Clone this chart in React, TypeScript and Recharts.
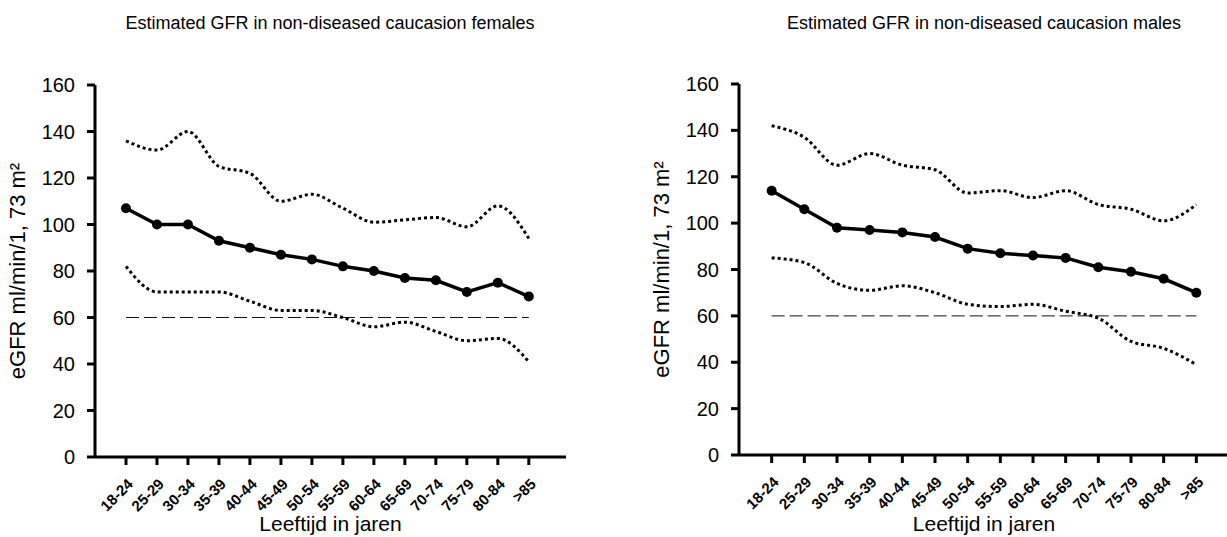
import React from 'react';
import { LineChart, Line, XAxis, YAxis, ReferenceLine } from 'recharts';

const categories = ['18-24', '25-29', '30-34', '35-39', '40-44', '45-49', '50-54', '55-59', '60-64', '65-69', '70-74', '75-79', '80-84', '>85'];

const femaleMean = [107, 100, 100, 93, 90, 87, 85, 82, 80, 77, 76, 71, 75, 69];
const femaleUpper = [136, 132, 140, 125, 122, 110, 113, 107, 101, 102, 103, 99, 108, 94];
const femaleLower = [82, 71, 71, 71, 67, 63, 63, 60, 56, 58, 54, 50, 51, 41];

const maleMean = [114, 106, 98, 97, 96, 94, 89, 87, 86, 85, 81, 79, 76, 70];
const maleUpper = [142, 137, 125, 130, 125, 123, 113, 114, 111, 114, 108, 106, 101, 108];
const maleLower = [85, 83, 74, 71, 73, 70, 65, 64, 65, 62, 59, 49, 46, 39];

const yTicks = [0, 20, 40, 60, 80, 100, 120, 140, 160];
const xTicks = categories.map((_, i) => i);
const threshold = 60;

const titles = ['Estimated GFR in non-diseased caucasion females', 'Estimated GFR in non-diseased caucasion males'];
const xLabel = 'Leeftijd in jaren';
const yLabel = 'eGFR ml/min/1, 73 m²';

const FONT = '"Liberation Sans", Arial, Helvetica, sans-serif';

function buildData(mean: number[], upper: number[], lower: number[]) {
  return categories.map((c, i) => ({ i, cat: c, mean: mean[i], upper: upper[i], lower: lower[i] }));
}

const XTick = (props: any) => {
  const { x, y, payload } = props;
  const idx = Math.round(Number(payload.value));
  const ax = x + 8;
  const ay = y + 18;
  return (
    <text
      x={ax}
      y={ay}
      textAnchor="end"
      transform={`rotate(-45, ${ax}, ${ay})`}
      fontSize={15}
      fontWeight="bold"
      fontFamily={FONT}
      fill="#000"
    >
      {categories[idx]}
    </text>
  );
};

type PanelProps = {
  data: any[];
  left: number;
  width: number;
  margin: { top: number; right: number; left: number; bottom: number };
  xAxisHeight: number;
  xMax: number;
};

const Y_AXIS_W = 60;
const HEIGHT = 537;

function Panel({ data, left, width, margin, xAxisHeight, xMax }: PanelProps) {
  const axisX = margin.left + Y_AXIS_W;
  const plotTop = margin.top;
  const plotBottom = HEIGHT - margin.bottom - xAxisHeight;
  const plotRight = width - margin.right;
  const cy = (plotTop + plotBottom) / 2;
  const cx = (axisX + plotRight) / 2;

  const yLabelRender = () => (
    <text
      x={axisX - 70}
      y={cy}
      textAnchor="middle"
      transform={`rotate(-90, ${axisX - 70}, ${cy})`}
      fontSize={22}
      fontFamily={FONT}
      fill="#000"
    >
      {yLabel}
    </text>
  );
  const xLabelRender = () => (
    <text x={cx} y={531} textAnchor="middle" fontSize={21} fontFamily={FONT} fill="#000">
      {xLabel}
    </text>
  );

  return (
    <div style={{ position: 'absolute', left, top: 0 }}>
      <LineChart width={width} height={HEIGHT} data={data} margin={margin}>
        <XAxis
          type="number"
          dataKey="i"
          domain={[-1, xMax]}
          ticks={xTicks}
          interval={0}
          height={xAxisHeight}
          tickSize={8}
          tickMargin={2}
          axisLine={{ stroke: '#000', strokeWidth: 3 }}
          tickLine={{ stroke: '#000', strokeWidth: 3 }}
          tick={<XTick />}
          label={xLabelRender}
          allowDataOverflow
        />
        <YAxis
          type="number"
          domain={[0, 160]}
          ticks={yTicks}
          interval={0}
          width={Y_AXIS_W}
          tickSize={8}
          tickMargin={12}
          axisLine={{ stroke: '#000', strokeWidth: 3 }}
          tickLine={{ stroke: '#000', strokeWidth: 3 }}
          tick={{ fill: '#000', fontSize: 20, fontFamily: FONT }}
          label={yLabelRender}
          allowDataOverflow
        />
        <ReferenceLine
          segment={[
            { x: 0, y: threshold },
            { x: categories.length - 1, y: threshold },
          ]}
          stroke="#111"
          strokeWidth={1}
          strokeDasharray="13 5"
          ifOverflow="visible"
        />
        <Line
          dataKey="upper"
          type="monotone"
          stroke="#000"
          strokeWidth={3}
          strokeDasharray="3 3"
          dot={false}
          activeDot={false}
          isAnimationActive={false}
        />
        <Line
          dataKey="lower"
          type="monotone"
          stroke="#000"
          strokeWidth={3}
          strokeDasharray="3 3"
          dot={false}
          activeDot={false}
          isAnimationActive={false}
        />
        <Line
          dataKey="mean"
          type="linear"
          stroke="#000"
          strokeWidth={3.5}
          dot={{ r: 5, fill: '#000', stroke: '#000', strokeWidth: 0 }}
          activeDot={false}
          isAnimationActive={false}
        />
      </LineChart>
    </div>
  );
}

export default function App() {
  const femaleData = buildData(femaleMean, femaleUpper, femaleLower);
  const maleData = buildData(maleMean, maleUpper, maleLower);
  return (
    <div
      style={{
        position: 'absolute',
        left: 0,
        top: 0,
        width: 1227,
        height: 537,
        overflow: 'hidden',
        background: '#fff',
        fontFamily: FONT,
      }}
    >
      <Panel
        data={femaleData}
        left={0}
        width={620}
        margin={{ top: 85, right: 54, left: 35, bottom: 0 }}
        xAxisHeight={80}
        xMax={14.2}
      />
      <Panel
        data={maleData}
        left={620}
        width={610}
        margin={{ top: 84, right: 1, left: 59, bottom: 0 }}
        xAxisHeight={82}
        xMax={14}
      />
      <svg
        width={1227}
        height={537}
        style={{ position: 'absolute', left: 0, top: 0, pointerEvents: 'none' }}
      >
        <text x={330} y={29} textAnchor="middle" fontSize={18} fontFamily={FONT} fill="#000">
          {titles[0]}
        </text>
        <text x={984} y={29} textAnchor="middle" fontSize={18} fontFamily={FONT} fill="#000">
          {titles[1]}
        </text>
      </svg>
    </div>
  );
}
